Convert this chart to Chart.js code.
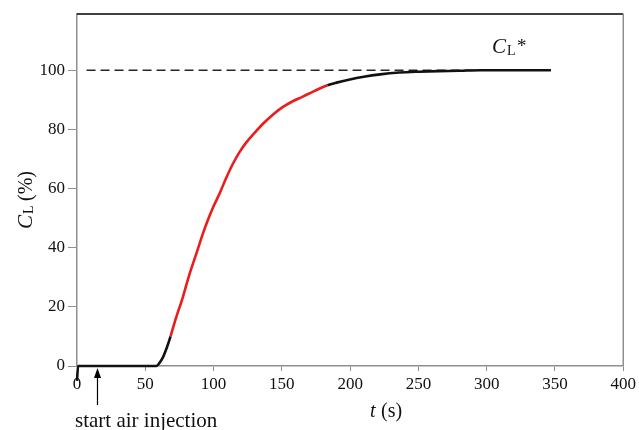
<!DOCTYPE html>
<html>
<head>
<meta charset="utf-8">
<script src="https://cdn.jsdelivr.net/npm/chart.js@4/dist/chart.umd.min.js"></script>
<style>
    html, body { margin: 0; padding: 0; background: #fff; }
    #wrap { position: relative; width: 639px; height: 430px; }
</style>
</head>
<body>
<div id="wrap"><canvas id="chart" width="639" height="430"></canvas></div>
<script>
// time (s) and liquid concentration C_L (%)
const timeS = [0, 0.8, 10, 20, 30, 40, 50, 58, 60, 63, 66, 68.5, 72, 77.6, 82, 87.4, 92, 96, 100, 104.4,
    109, 114, 119, 124, 130, 136, 143, 150.6, 158, 165, 174, 183.4, 190, 199, 210, 222, 236, 250,
    265, 280, 295, 310, 330, 347]
const concL = [-5, 0, 0, 0, 0, 0, 0, 0, 0.8, 3, 6.5, 10, 15.5, 23.4, 30.5, 38, 44.5, 49.5, 54, 58.3,
    63.3, 68.2, 72.3, 75.6, 78.8, 81.8, 84.8, 87.5, 89.5, 91, 93, 94.9, 95.8, 96.8, 97.8, 98.6, 99.2, 99.5,
    99.7, 99.8, 100, 100, 100, 100]
// part of the curve drawn in red
const redStart = 68.5
const redEnd = 183.4
// saturation level C_L*
const satTime = [7, 347]
const satLevel = [100, 100]
const arrowTime = 15

const xTicks = [0, 50, 100, 150, 200, 250, 300, 350, 400]
const yTicks = [0, 20, 40, 60, 80, 100]

const serif = "'Liberation Serif', 'DejaVu Serif', serif"
const axisGray = '#8f8f8f'
const red = '#ea1c1c'
const ink = '#111111'

const annotations = {
    id: 'annotations',
    afterDatasetsDraw(chart) {
        const { ctx, chartArea, scales } = chart
        const { x, y } = scales
        ctx.save()
        // frame: black top, gray right
        ctx.lineWidth = 1.4
        ctx.strokeStyle = '#000'
        ctx.beginPath()
        ctx.moveTo(chartArea.left, chartArea.top)
        ctx.lineTo(chartArea.right, chartArea.top)
        ctx.stroke()
        ctx.strokeStyle = axisGray
        ctx.lineWidth = 1.5
        ctx.beginPath()
        ctx.moveTo(chartArea.right, chartArea.top)
        ctx.lineTo(chartArea.right, chartArea.bottom)
        ctx.stroke()
        // arrow: start air injection
        const ax = x.getPixelForValue(arrowTime)
        const ay = y.getPixelForValue(0) + 2
        ctx.strokeStyle = '#000'
        ctx.fillStyle = '#000'
        ctx.lineWidth = 1.2
        ctx.beginPath()
        ctx.moveTo(ax, ay + 8)
        ctx.lineTo(ax, ay + 37)
        ctx.stroke()
        ctx.beginPath()
        ctx.moveTo(ax, ay)
        ctx.lineTo(ax - 3.5, ay + 10)
        ctx.lineTo(ax + 3.5, ay + 10)
        ctx.closePath()
        ctx.fill()
        ctx.fillStyle = '#111'
        ctx.textBaseline = 'alphabetic'
        ctx.textAlign = 'left'
        ctx.font = '21px ' + serif
        ctx.fillText('start air injection', 75, 427)
        // x title: t (s)
        ctx.font = 'italic 20px ' + serif
        ctx.fillText('t', 370, 417)
        ctx.font = '20px ' + serif
        ctx.fillText(' (s)', 376, 417)
        // C_L* label
        ctx.font = 'italic 21px ' + serif
        ctx.fillText('C', 492, 53)
        ctx.font = '14px ' + serif
        ctx.fillText('L', 507, 55)
        ctx.font = '19px ' + serif
        ctx.fillText('*', 517, 52)
        // y title: C_L (%)
        ctx.translate(32, 229)
        ctx.rotate(-Math.PI / 2)
        ctx.font = 'italic 21px ' + serif
        ctx.fillText('C', 0, 0)
        ctx.font = '14px ' + serif
        ctx.fillText('L', 15, 1)
        ctx.font = '20px ' + serif
        ctx.fillText(' (%)', 23, 0)
        ctx.restore()
    }
}

new Chart(document.getElementById('chart'), {
    type: 'line',
    data: {
        datasets: [
            {
                label: 'C_L',
                data: timeS.map((t, i) => ({ x: t, y: concL[i] })),
                borderWidth: 2.6,
                borderColor: ink,
                segment: {
                    borderColor: ctx => (ctx.p0.parsed.x >= redStart && ctx.p1.parsed.x <= redEnd) ? red : ink
                },
                cubicInterpolationMode: 'monotone',
                pointStyle: false,
                clip: false,
                order: 0
            },
            {
                label: 'C_L*',
                data: satTime.map((t, i) => ({ x: t, y: satLevel[i] })),
                borderWidth: 1.5,
                borderColor: '#262626',
                borderDash: [9, 5],
                pointStyle: false,
                order: 1
            }
        ]
    },
    options: {
        animation: false,
        responsive: false,
        layout: {
            padding: { top: 14, right: 5, left: 0, bottom: 0 }
        },
        scales: {
            x: {
                type: 'linear',
                min: 0,
                max: 400,
                afterBuildTicks: s => { s.ticks = xTicks.map(v => ({ value: v })) },
                afterFit: s => { s.height = 64 },
                border: { color: axisGray, width: 1.5 },
                grid: { drawOnChartArea: false, tickLength: 5, color: axisGray },
                ticks: { color: '#111', padding: 3, font: { family: serif, size: 17 } }
            },
            y: {
                type: 'linear',
                min: 0,
                max: 119,
                afterBuildTicks: s => { s.ticks = yTicks.map(v => ({ value: v })) },
                afterFit: s => { s.width = 77 },
                border: { color: axisGray, width: 1.5 },
                grid: { drawOnChartArea: false, tickLength: 9, color: axisGray },
                ticks: { color: '#111', padding: 3, font: { family: serif, size: 17 } }
            }
        },
        plugins: {
            legend: { display: false },
            tooltip: { enabled: false }
        }
    },
    plugins: [annotations]
})
</script>
</body>
</html>
